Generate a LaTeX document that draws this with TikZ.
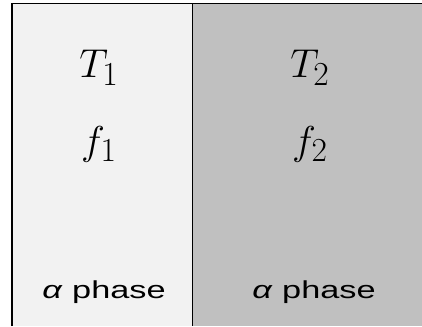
\documentclass[tikz,border=0pt]{standalone}
\usepackage{graphicx}
\usepackage{fontspec}
\newfontfamily\labelfont[FakeStretch=1.4]{Liberation Sans}
\usepackage{xcolor}
\usetikzlibrary{positioning}
\definecolor{lightphase}{HTML}{F2F2F2}
\definecolor{darkphase}{HTML}{C0C0C0}
\newcommand{\bigsym}[1]{\scalebox{1.62}{\Huge$#1$}}

\begin{document}
\begin{tikzpicture}[
    x=1pt, y=1pt,
    region/.style={rectangle, inner sep=0pt, minimum height=322pt, anchor=south west},
    border/.style={line width=1.6pt, black},
    quantity/.style={inner sep=0pt},
    phaselabel/.style={font=\labelfont\fontsize{24.5}{26}\selectfont, inner sep=0pt}
]

\useasboundingbox (0,0) rectangle (422,326);

\node[region, fill=lightphase, minimum width=180pt] (leftregion) at (12,0) {};
\node[region, fill=darkphase, minimum width=230pt] (rightregion) at (leftregion.south east) {};

\draw[border] (leftregion.south west) |- (leftregion.north east) -- (leftregion.south east);
\draw[border] (rightregion.north west) -- (rightregion.north east);

% left phase
\node[quantity] (tempone) at (99,258) {\bigsym{T_1}};
\node[quantity, below=40pt of tempone] (fracone) {\bigsym{f_1}};
\node[phaselabel] (labelone) at (104,34) {\textit{α} phase};

% right phase
\node[quantity] (temptwo) at (310,258) {\bigsym{T_2}};
\node[quantity, below=40pt of temptwo] (fractwo) {\bigsym{f_2}};
\node[phaselabel] (labeltwo) at (314,34) {\textit{α} phase};

\end{tikzpicture}
\end{document}
